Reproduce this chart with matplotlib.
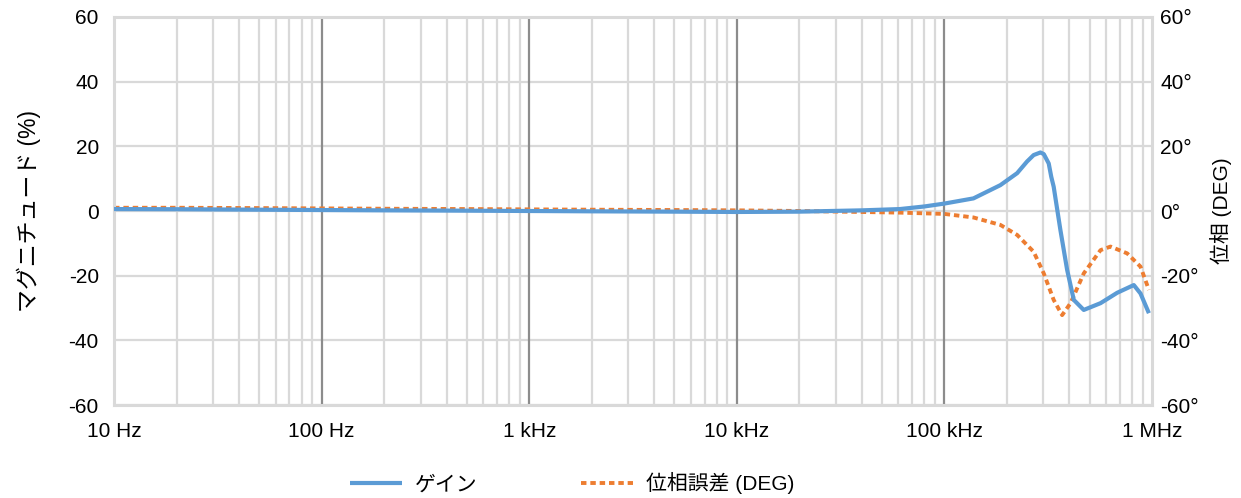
import matplotlib
matplotlib.use("Agg")
import matplotlib.pyplot as plt
from matplotlib.ticker import FixedLocator, NullFormatter

plt.rcParams['font.family'] = ['Liberation Sans', 'Noto Sans CJK JP', 'DejaVu Sans']

# Frequency response data
freq_hz = [10, 20, 50, 100, 200, 500, 1000, 2000, 5000, 10000, 20000, 40000,
           61000, 80000, 100000, 138000, 186000, 224000, 250000, 269000, 290000,
           301000, 318000, 327000, 336000, 362000, 390000, 420000, 469000,
           565000, 679000, 817000, 880000, 966000]
gain_pct = [0.6, 0.55, 0.4, 0.3, 0.2, 0.1, 0.0, -0.1, -0.2, -0.3, -0.2, 0.2,
            0.6, 1.4, 2.3, 3.9, 8.0, 11.7, 15.3, 17.3, 18.1,
            17.6, 14.7, 10.6, 7.5, -5.9, -18.2, -27.5, -30.6,
            -28.5, -25.3, -22.9, -25.5, -31.6]

phase_freq_hz = [10, 20, 50, 100, 200, 500, 1000, 2000, 5000, 10000, 20000,
                 40000, 61000, 100000, 138000, 186000, 224000, 269000, 301000,
                 336000, 369000, 405000, 469000, 565000, 631000, 759000,
                 880000, 966000]
phase_deg = [1.0, 1.0, 0.9, 0.8, 0.7, 0.6, 0.5, 0.4, 0.3, 0.2, 0.0,
             -0.3, -0.5, -0.9, -2.0, -4.3, -7.4, -12.6, -19.3,
             -27.5, -32.2, -28.5, -19.3, -12.1, -11.0, -13.1,
             -17.2, -24.4]

decades = [10, 100, 1000, 10000, 100000, 1000000]
decade_labels = ['10 Hz', '100 Hz', '1 kHz', '10 kHz', '100 kHz', '1 MHz']
y_ticks = [-60, -40, -20, 0, 20, 40, 60]
y_labels = ['-60', '-40', '-20', '0', '20', '40', '60']
phase_labels = ['-60°', '-40°', '-20°', '0°', '20°', '40°', '60°']

BLUE = '#5B9BD5'
ORANGE = '#ED7D31'
LIGHT = '#D9D9D9'
DARK = '#8C8C8C'
FS = 15

fig = plt.figure(figsize=(12.41, 4.98), dpi=100)
ax = fig.add_axes([0.0919, 0.1867, 0.8364, 0.7792])
ax.set_xscale('log')
ax.set_xlim(decades[0], decades[-1])
ax.set_ylim(-60, 60)

ax.xaxis.set_major_locator(FixedLocator(decades))
ax.set_xticklabels(decade_labels)
minor = [m * d for d in decades[:-1] for m in range(2, 10)]
ax.xaxis.set_minor_locator(FixedLocator(minor))
ax.xaxis.set_minor_formatter(NullFormatter())
ax.set_yticks(y_ticks)
ax.set_yticklabels(y_labels)

# grid: light minor/horizontal lines, darker decade lines
for f in minor:
    ax.axvline(f, color=LIGHT, lw=1.6, zorder=0)
for y in y_ticks:
    ax.axhline(y, color=LIGHT, lw=1.6, zorder=0)
for d in decades[1:-1]:
    ax.axvline(d, color=DARK, lw=1.6, zorder=0.5)
for s in ax.spines.values():
    s.set_color(LIGHT)
    s.set_linewidth(2.2)

ax.tick_params(axis='both', which='both', length=0, labelsize=FS, colors='black')
ax.tick_params(axis='x', pad=12)
ax.tick_params(axis='y', pad=11)

ax.set_ylabel('マグニチュード (%)', fontsize=16.5, labelpad=20)

ax2 = ax.twinx()
ax2.set_ylim(-60, 60)
ax2.set_yticks(y_ticks)
ax2.set_yticklabels(phase_labels)
ax2.tick_params(axis='y', length=0, labelsize=FS, pad=6)
for s in ax2.spines.values():
    s.set_visible(False)
ax2.set_ylabel('位相 (DEG)', fontsize=FS, labelpad=8)

line_gain, = ax.plot(freq_hz, gain_pct, color=BLUE, lw=3.0, zorder=3,
                     solid_capstyle='butt', solid_joinstyle='round',
                     label='ゲイン')
line_phase, = ax.plot(phase_freq_hz, phase_deg, color=ORANGE, lw=2.8, zorder=2,
                      linestyle=(0, (1.4, 1.0)), dash_capstyle='butt',
                      label='位相誤差 (DEG)')

fig.legend(handles=[line_gain, line_phase], loc='lower center',
           bbox_to_anchor=(0.461, -0.03), ncol=2, frameon=False, fontsize=FS,
           handlelength=2.5, columnspacing=5.0, handletextpad=0.6)

fig.savefig('out.png', dpi=100)
